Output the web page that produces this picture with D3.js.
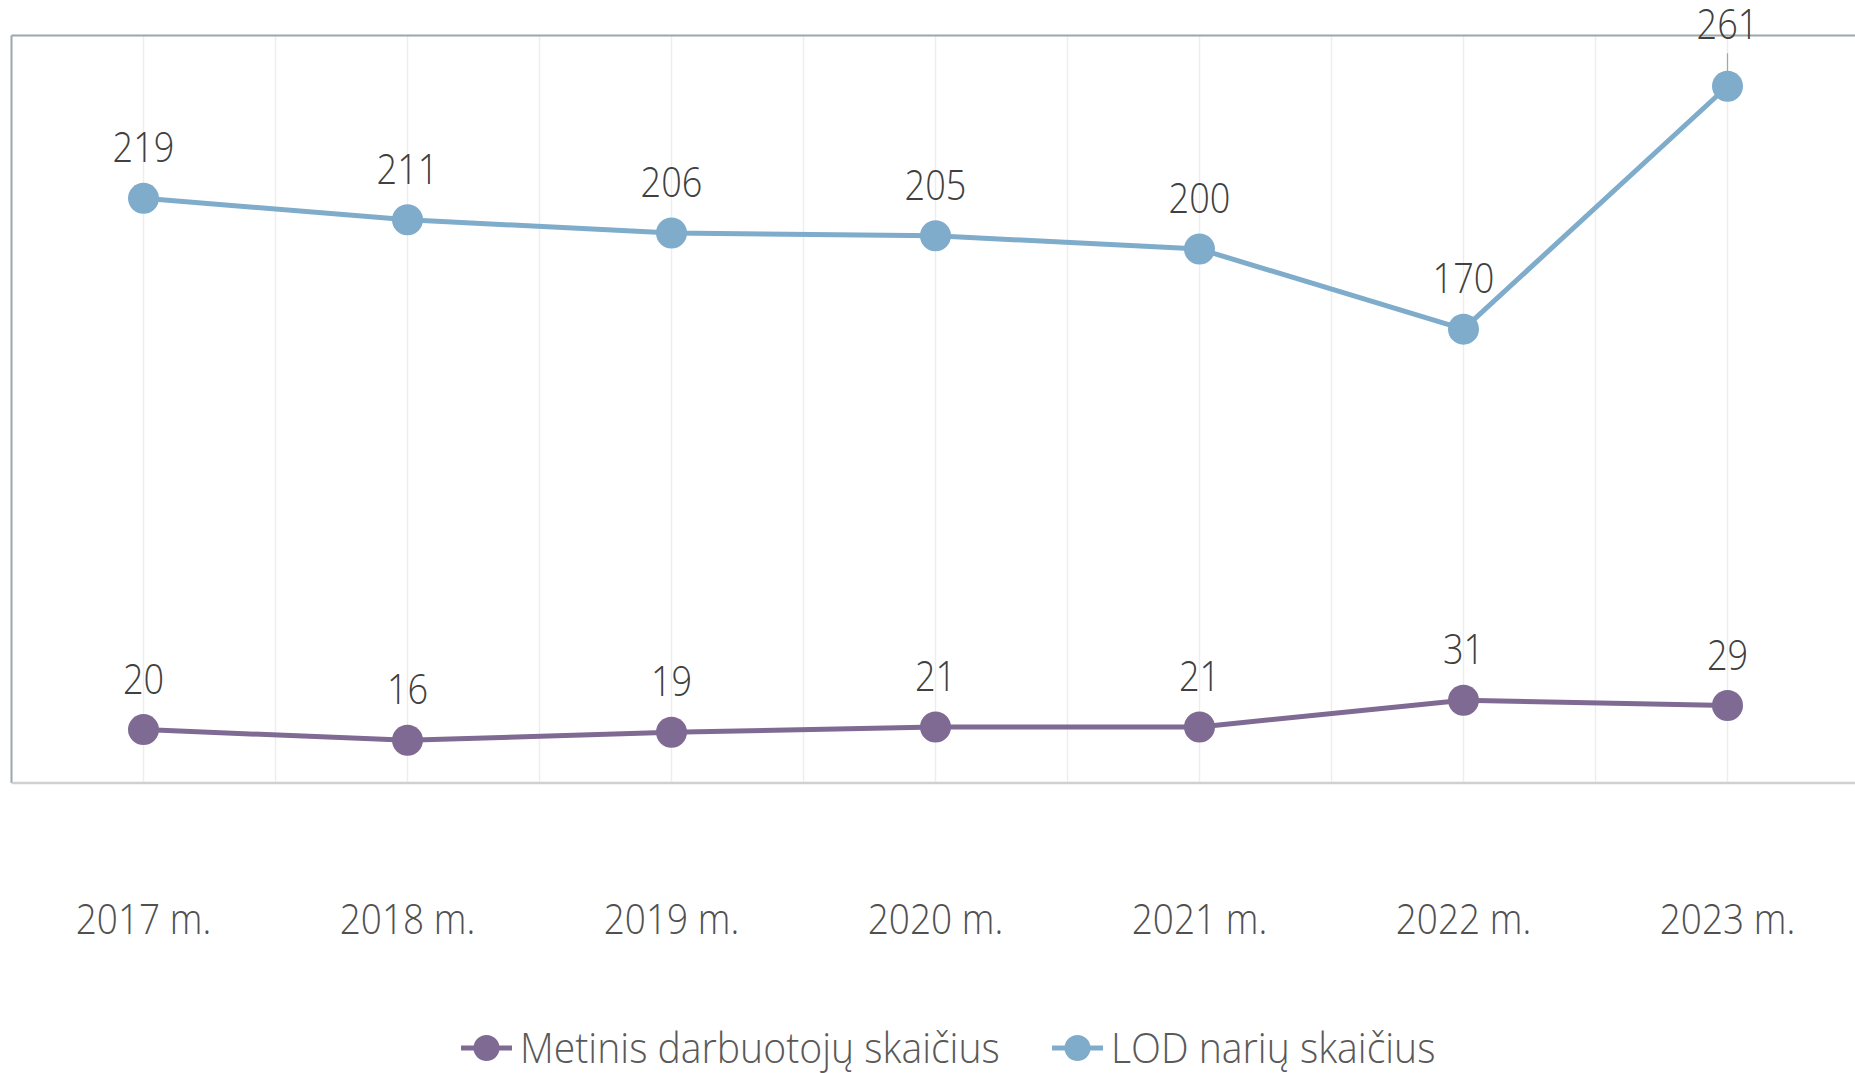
<!DOCTYPE html>
<html>
<head>
<meta charset="utf-8">
<script src="https://cdn.jsdelivr.net/npm/d3@7/dist/d3.min.js"></script>
<style>
  html, body { margin: 0; padding: 0; background: #fff; }
  svg { display: block; }
  text { font-family: "Open Sans", "Noto Sans", sans-serif; }
</style>
</head>
<body>
<svg id="chart" width="1855" height="1073"></svg>
<script>
const categories = ["2017 m.", "2018 m.", "2019 m.", "2020 m.", "2021 m.", "2022 m.", "2023 m."];
const staffValues = [20, 16, 19, 21, 21, 31, 29];
const lodValues = [219, 211, 206, 205, 200, 170, 261];
const seriesNames = ["Metinis darbuotojų skaičius", "LOD narių skaičius"];
const seriesColors = ["#7f6a93", "#7facca"];
const yDomain = [0, 280];

const W = 1855, H = 1073;
const plot = { left: 11.5, top: 35.5, bottom: 783, band: 264 };
const FS = 43;

const svg = d3.select("#chart");

const x = d3.scaleBand().domain(categories)
  .range([plot.left, plot.left + plot.band * categories.length]).padding(0);
const y = d3.scaleLinear().domain(yDomain).range([plot.bottom, plot.top]);
const cx = c => x(c) + x.bandwidth() / 2;

function addText(g, tx, ty, str, opts) {
  return g.append("text")
    .attr("transform", `translate(${tx},${ty}) scale(${opts.sx || 0.82},1)`)
    .attr("text-anchor", opts.anchor || "middle")
    .attr("font-size", opts.size || FS)
    .attr("font-weight", opts.weight || 300)
    .attr("fill", opts.fill || "#404040")
    .text(str);
}

// gridlines
const grid = svg.append("g");
categories.forEach((c, i) => {
  grid.append("line").attr("x1", cx(c)).attr("x2", cx(c))
    .attr("y1", plot.top).attr("y2", plot.bottom)
    .attr("stroke", "#ededed").attr("stroke-width", 1.5);
  if (i > 0) {
    grid.append("line").attr("x1", x(c)).attr("x2", x(c))
      .attr("y1", plot.top).attr("y2", plot.bottom)
      .attr("stroke", "#ededed").attr("stroke-width", 1.5);
  }
});

// frame
svg.append("line").attr("x1", plot.left).attr("x2", W)
  .attr("y1", plot.top).attr("y2", plot.top)
  .attr("stroke", "#9aa8aa").attr("stroke-width", 2);
svg.append("line").attr("x1", plot.left).attr("x2", plot.left)
  .attr("y1", plot.top).attr("y2", plot.bottom)
  .attr("stroke", "#9aa8aa").attr("stroke-width", 2);

// x axis
const xAxis = d3.axisBottom(x).tickSize(0).tickFormat("");
const axG = svg.append("g").attr("transform", `translate(0,${plot.bottom})`).call(xAxis);
axG.select(".domain").attr("stroke", "#d0d0d0").attr("stroke-width", 2.5)
  .attr("d", `M${plot.left},0H${W}`);
categories.forEach(c => addText(svg, cx(c), 934, c, { fill: "#505050", sx: 0.86 }));

// series
const series = [staffValues, lodValues];
const line = d3.line().x((d, i) => cx(categories[i])).y(d => y(d));
series.forEach((vals, si) => {
  const g = svg.append("g");
  g.append("path").datum(vals).attr("d", line)
    .attr("fill", "none").attr("stroke", seriesColors[si])
    .attr("stroke-width", 5).attr("stroke-linejoin", "round");
  vals.forEach((v, i) => {
    const px = cx(categories[i]), py = y(v);
    let ly = py - 36;
    if (ly - 31 < plot.top) {
      ly = py - 47;
      g.append("line").attr("x1", px).attr("x2", px)
        .attr("y1", ly + 14).attr("y2", py)
        .attr("stroke", "#a6a6a6").attr("stroke-width", 1.2);
    }
    g.append("circle").attr("cx", px).attr("cy", py).attr("r", 15.5)
      .attr("fill", seriesColors[si]);
    addText(svg, px, ly, String(v), { fill: "#404040", sx: 0.84 });
  });
});

// legend
const legendItems = [
  { name: seriesNames[0], color: seriesColors[0], x0: 461 },
  { name: seriesNames[1], color: seriesColors[1], x0: 1052 }
];
const lg = svg.append("g");
legendItems.forEach(it => {
  const ly = 1048;
  lg.append("line").attr("x1", it.x0).attr("x2", it.x0 + 51)
    .attr("y1", ly).attr("y2", ly).attr("stroke", it.color).attr("stroke-width", 5);
  lg.append("circle").attr("cx", it.x0 + 25.5).attr("cy", ly).attr("r", 13).attr("fill", it.color);
  addText(lg, it.x0 + 59, ly + 15, it.name, { anchor: "start", fill: "#595959", sx: 0.91 });
});
</script>
</body>
</html>
